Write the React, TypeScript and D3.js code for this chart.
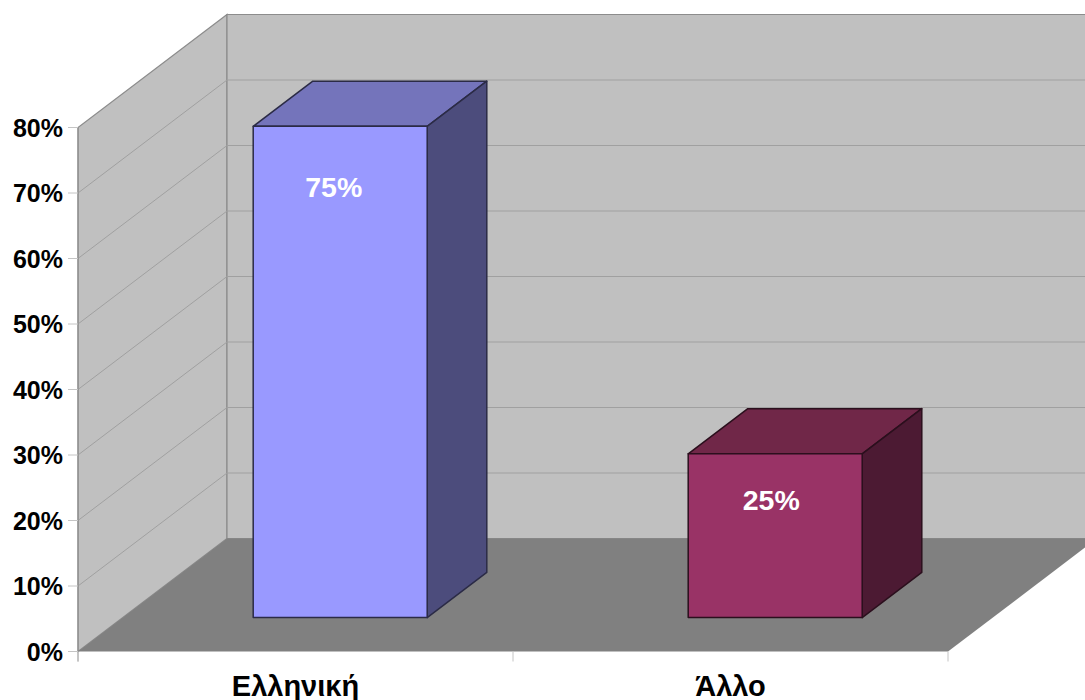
import React from 'react';
import * as d3 from 'd3';

const categories = ['Ελληνική', 'Άλλο'];
const shares = [75, 25];
const ticks = [0, 10, 20, 30, 40, 50, 60, 70, 80];
const barFronts = ['#9999ff', '#993366'];
const barTops = ['#7474bb', '#702748'];
const barSides = ['#4c4c7c', '#4c1a33'];

const W = 1085;
const H = 700;
// oblique offset of the back wall against the front plane
const DX = 149;
const DY = 113;
const BAR_NEAR = 0.3;
const BAR_FAR = 0.7;
const FONT = '"Liberation Sans", Arial, sans-serif';
const GRID = '#a0a0a0';
const EDGE = '#8c8c8c';

const x = d3.scaleBand<string>().domain(categories).range([78, 948]).paddingInner(0.6).paddingOuter(0.3);
const y = d3.scaleLinear().domain([0, 80]).range([651.5, 127.5]);
const line = d3.line();
const pts = (p: [number, number][]) => line(p) + 'Z';

// label drop below the top of each bar and nudge off its centre
const labelDrop = [71, 56];
const labelNudge = [-6.5, -4];

export default function App() {
  const x0 = x.range()[0];
  const x1 = x.range()[1];
  const top = y(80);
  const base = y(0);
  const step = x.step();

  return (
    <svg width={W} height={H} viewBox={`0 0 ${W} ${H}`} style={{ position: 'absolute', left: 0, top: 0, background: '#fff' }}>
      {/* side wall */}
      <path d={pts([[x0, base], [x0 + DX, base - DY], [x0 + DX, top - DY], [x0, top]])} fill="#c0c0c0" stroke={EDGE} strokeWidth={1.2} />
      {/* back wall */}
      <path d={pts([[x0 + DX, base - DY], [x1 + DX, base - DY], [x1 + DX, top - DY], [x0 + DX, top - DY]])} fill="#c0c0c0" stroke={EDGE} strokeWidth={1.2} />
      {/* grid */}
      {ticks.slice(1, -1).map(t => (
        <path key={t} d={line([[x0, y(t)], [x0 + DX, y(t) - DY], [x1 + DX, y(t) - DY]]) ?? ''} fill="none" stroke={GRID} strokeWidth={1} />
      ))}
      {/* floor */}
      <path d={pts([[x0, base], [x1, base], [x1 + DX, base - DY], [x0 + DX, base - DY]])} fill="#808080" />
      {/* axis ticks */}
      <line x1={x0} x2={x0} y1={top} y2={base + 10} stroke={EDGE} strokeWidth={1} />
      {ticks.map(t => (
        <g key={t}>
          <line x1={x0 - 10} x2={x0} y1={y(t)} y2={y(t)} stroke="#c4c4c4" strokeWidth={1} />
          <text x={63} y={y(t) + 9} textAnchor="end" fontFamily={FONT} fontWeight="bold" fontSize={25} fill="#000">{t}%</text>
        </g>
      ))}
      {d3.range(categories.length + 1).map(i => (
        <line key={i} x1={x0 + i * step} x2={x0 + i * step} y1={base} y2={base + 10} stroke="#c4c4c4" strokeWidth={1} />
      ))}
      {/* bars */}
      {categories.map((c, i) => {
        const left = (x(c) ?? 0) + BAR_NEAR * DX;
        const right = left + x.bandwidth();
        const yBase = base - BAR_NEAR * DY;
        const yTop = yBase - (base - y(shares[i]));
        const dx = (BAR_FAR - BAR_NEAR) * DX;
        const dy = (BAR_FAR - BAR_NEAR) * DY;
        const stroke = d3.color(barSides[i])?.darker(1.6).formatHex() ?? '#000';
        return (
          <g key={c} stroke={stroke} strokeWidth={1.5} strokeLinejoin="round">
            <path d={pts([[left, yTop], [left + dx, yTop - dy], [right + dx, yTop - dy], [right, yTop]])} fill={barTops[i]} />
            <path d={pts([[right, yTop], [right + dx, yTop - dy], [right + dx, yBase - dy], [right, yBase]])} fill={barSides[i]} />
            <path d={pts([[left, yTop], [right, yTop], [right, yBase], [left, yBase]])} fill={barFronts[i]} />
            <text x={(left + right) / 2 + labelNudge[i]} y={yTop + labelDrop[i]} textAnchor="middle" stroke="none" fontFamily={FONT} fontWeight="bold" fontSize={28.5} fill="#fff">{shares[i]}%</text>
          </g>
        );
      })}
      {/* category labels */}
      {categories.map((c, i) => (
        <text key={c} x={(x(c) ?? 0) + x.bandwidth() / 2} y={696} textAnchor="middle" fontFamily={FONT} fontWeight="bold" fontSize={29} fill="#000">{c}</text>
      ))}
    </svg>
  );
}
